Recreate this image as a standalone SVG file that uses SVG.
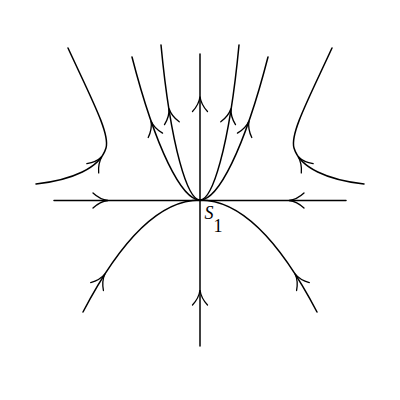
<svg xmlns="http://www.w3.org/2000/svg" xmlns:xlink="http://www.w3.org/1999/xlink" width="400" height="400" viewBox="0 0 400 400">
<style>
.c{fill:none;stroke:#000;stroke-width:1.5;stroke-linecap:round}
.a{fill:none;stroke:#000;stroke-width:1.3;stroke-linecap:round}
.t{font-family:"Liberation Serif","DejaVu Serif",serif;font-size:18px;fill:#000}
</style>
<defs>
<path id="ah" class="a" d="M-7.5,15 Q-1,8 0,0 Q1,8 7.5,15"/>
</defs>
<rect width="400" height="400" fill="#fff"/>
<g id="connectors">
<path id="axis-x" class="c" d="M54,200.5 H346"/>
<path id="axis-y" class="c" d="M200,54 V346"/>
<path id="up-outer-left" class="c" d="M200,200 C182,200 156,150 132,57"/>
<path id="up-inner-left" class="c" d="M200,200 C188,200 171,150 161,45"/>
<path id="up-inner-right" class="c" d="M200,200 C212,200 229,150 239,45"/>
<path id="up-outer-right" class="c" d="M200,200 C218,200 244,150 268,57"/>
<path id="lower-parabola" class="c" d="M83,312 Q200,88 317,312"/>
<path id="corner-left" class="c" d="M36,184 C72,180 100,168 106,148 C110.2,134 92,100 68,48"/>
<path id="corner-right" class="c" d="M364,184 C328,180 300,168 294,148 C289.8,134 308,100 332,48"/>
<use xlink:href="#ah" transform="translate(200,96.5)"/>
<use xlink:href="#ah" transform="translate(200,290)"/>
<use xlink:href="#ah" transform="translate(108,200.5) rotate(90)"/>
<use xlink:href="#ah" transform="translate(289,200.5) rotate(-90)"/>
<use xlink:href="#ah" transform="translate(151,121) rotate(-17)"/>
<use xlink:href="#ah" transform="translate(169,108.5) rotate(-11)"/>
<use xlink:href="#ah" transform="translate(231,108.5) rotate(11)"/>
<use xlink:href="#ah" transform="translate(249,121) rotate(17)"/>
<use xlink:href="#ah" transform="translate(105,273.8) rotate(32)"/>
<use xlink:href="#ah" transform="translate(295,273.8) rotate(-32)"/>
<use xlink:href="#ah" transform="translate(102,156.5) rotate(38)"/>
<use xlink:href="#ah" transform="translate(298,156.5) rotate(-38)"/>
</g>
<g id="node-s1">
<text class="t" x="204.5" y="218.5" font-style="italic">S</text>
<text class="t" x="213.5" y="232">1</text>
</g>
</svg>
